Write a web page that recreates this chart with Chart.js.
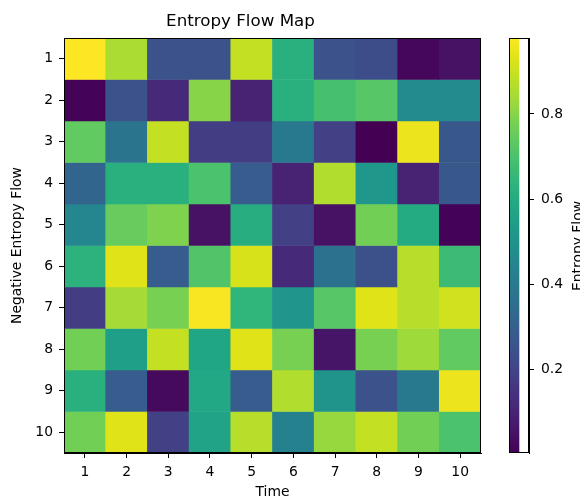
<!DOCTYPE html>
<html>
<head>
<meta charset="utf-8">
<script src="https://cdn.jsdelivr.net/npm/chart.js@4"></script>
<style>
html, body { margin:0; padding:0; width:580px; height:502px; overflow:hidden; background:#fff; }
#wrap { position:relative; width:580px; height:502px; overflow:hidden; }
#main { position:absolute; left:0; top:0; }
#cbar { position:absolute; left:480px; top:0; }
#cbtitle { position:absolute; left:516.8px; top:235.5px; width:120px; height:20px; line-height:20px;
  text-align:center; font-family:'DejaVu Sans', sans-serif; font-size:13.9px; color:#000;
  transform:rotate(-90deg); transform-origin:50% 50%; white-space:nowrap; }
</style>
</head>
<body>
<div id="wrap">
<canvas id="main" width="580" height="502"></canvas>
<canvas id="cbar" width="100" height="502"></canvas>
<div id="cbtitle">Entropy Flow</div>
</div>
<script>
// ---- data ----
const chartTitle = 'Entropy Flow Map';
const xLabel = 'Time';
const yLabel = 'Negative Entropy Flow';
const colorbarLabel = 'Entropy Flow';
const timeLabels = [1,2,3,4,5,6,7,8,9,10];
const rowLabels = [1,2,3,4,5,6,7,8,9,10];
const colorbarTicks = [0.2, 0.4, 0.6, 0.8];

const row1  = [0.978, 0.85, 0.25, 0.25, 0.89, 0.62, 0.25, 0.23, 0.02, 0.05];
const row2  = [0.01, 0.25, 0.12, 0.80, 0.10, 0.62, 0.69, 0.72, 0.47, 0.47];
const row3  = [0.74, 0.38, 0.89, 0.18, 0.18, 0.40, 0.19, 0.005, 0.95, 0.27];
const row4  = [0.32, 0.62, 0.62, 0.70, 0.29, 0.10, 0.86, 0.52, 0.10, 0.27];
const row5  = [0.45, 0.75, 0.79, 0.05, 0.61, 0.19, 0.05, 0.77, 0.60, 0.01];
const row6  = [0.63, 0.93, 0.29, 0.71, 0.92, 0.12, 0.37, 0.24, 0.87, 0.67];
const row7  = [0.18, 0.84, 0.78, 0.97, 0.64, 0.51, 0.72, 0.93, 0.87, 0.91];
const row8  = [0.77, 0.55, 0.89, 0.58, 0.93, 0.78, 0.06, 0.78, 0.83, 0.74];
const row9  = [0.62, 0.29, 0.03, 0.59, 0.29, 0.86, 0.50, 0.25, 0.40, 0.95];
const row10 = [0.77, 0.93, 0.19, 0.57, 0.87, 0.43, 0.82, 0.89, 0.77, 0.70];
const rows = [row1,row2,row3,row4,row5,row6,row7,row8,row9,row10];

// ---- viridis ----
const viridisStops = [
  '#440154','#471365','#482475','#46337f','#414487','#3b528b','#355f8d','#2f6c8e','#2a788e','#25848e',
  '#21918c','#1e9c89','#22a884','#2fb47c','#44bf70','#5ec962','#7ad151','#a0da39','#bddf26','#dfe318','#fde725'
];
function hexToRgb(h){ return [parseInt(h.slice(1,3),16),parseInt(h.slice(3,5),16),parseInt(h.slice(5,7),16)]; }
const viridisRgb = viridisStops.map(hexToRgb);
function viridis(t){
  t = Math.max(0, Math.min(1, t));
  const n = viridisRgb.length - 1;
  const p = t * n, i = Math.min(Math.floor(p), n - 1), f = p - i;
  const a = viridisRgb[i], b = viridisRgb[i+1];
  return 'rgb(' + [0,1,2].map(k => Math.round(a[k] + (b[k]-a[k])*f)).join(',') + ')';
}
const allVals = rows.flat();
const vmin = Math.min(...allVals), vmax = Math.max(...allVals);
const norm = v => (v - vmin) / (vmax - vmin);

const FONT = "'DejaVu Sans', sans-serif";
Chart.defaults.font.family = FONT;
Chart.defaults.color = '#000';
Chart.defaults.animation = false;

const framePlugin = {
  id: 'frame',
  afterDatasetsDraw(chart) {
    const a = chart.chartArea, ctx = chart.ctx;
    ctx.save();
    ctx.strokeStyle = '#000';
    ctx.lineWidth = 1;
    ctx.strokeRect(Math.round(a.left)+0.5, Math.round(a.top)+0.5, Math.round(a.right-a.left)-1, Math.round(a.bottom-a.top)-1);
    ctx.restore();
  }
};

const datasets = rows.map((r, ri) => ({
  label: 'Row ' + rowLabels[ri],
  data: timeLabels.map(() => [rowLabels[ri] - 0.5, rowLabels[ri] + 0.5]),
  backgroundColor: r.map(v => viridis(norm(v))),
  borderWidth: 0,
  grouped: false,
  barPercentage: 1,
  categoryPercentage: 1
}));

new Chart(document.getElementById('main'), {
  type: 'bar',
  data: { labels: timeLabels.map(String), datasets },
  options: {
    responsive: false,
    layout: { padding: { left: 0, right: 99, top: 0, bottom: 0 } },
    plugins: {
      legend: { display: false },
      tooltip: { enabled: false },
      title: { display: true, text: chartTitle, font: { size: 16.7, weight: 'normal', family: FONT }, color: '#000',
        padding: { top: 12, bottom: 6 } }
    },
    scales: {
      x: {
        type: 'category',
        offset: true,
        grid: { display: true, drawOnChartArea: false, drawTicks: true, tickLength: 5, color: '#000', offset: false },
        border: { display: true, color: '#000' },
        ticks: { font: { size: 13.9 }, color: '#000', padding: 6, maxRotation: 0 },
        title: { display: true, text: xLabel, font: { size: 13.9 }, color: '#000', padding: { top: 0, bottom: 1.2 } },
        afterFit(s) { s.height = 49; }
      },
      y: {
        type: 'linear',
        min: 0.5, max: 10.5,
        reverse: true,
        grid: { display: true, drawOnChartArea: false, drawTicks: true, tickLength: 5, color: '#000' },
        border: { display: true, color: '#000' },
        ticks: { font: { size: 13.9 }, color: '#000', padding: 6 },
        afterBuildTicks(s) { s.ticks = rowLabels.map(v => ({ value: v })); },
        title: { display: true, text: yLabel, font: { size: 13.9 }, color: '#000', padding: { top: 8.7, bottom: 0 } },
        afterFit(s) { s.width = 64; }
      }
    }
  },
  plugins: [framePlugin]
});

// ---- colorbar ----
new Chart(document.getElementById('cbar'), {
  type: 'bar',
  data: {
    labels: [''],
    datasets: [{
      data: [[vmin, vmax]],
      borderWidth: 0,
      barPercentage: 1,
      categoryPercentage: 1,
      backgroundColor(ctx) {
        const a = ctx.chart.chartArea;
        if (!a) return viridis(0.5);
        const g = ctx.chart.ctx.createLinearGradient(0, a.bottom, 0, a.top);
        viridisStops.forEach((c, i) => g.addColorStop(i / (viridisStops.length - 1), c));
        return g;
      }
    }]
  },
  options: {
    responsive: false,
    layout: { padding: { left: 29, right: 0, top: 38, bottom: 49 } },
    plugins: { legend: { display: false }, tooltip: { enabled: false }, title: { display: false } },
    scales: {
      x: { display: false, offset: false },
      y: {
        type: 'linear', position: 'right',
        min: vmin, max: vmax,
        grid: { display: true, drawOnChartArea: false, drawTicks: true, tickLength: 5, color: '#000' },
        border: { display: true, color: '#000' },
        ticks: { font: { size: 13.9 }, color: '#000', padding: 7, callback: v => v.toFixed(1) },
        afterBuildTicks(s) { s.ticks = colorbarTicks.map(v => ({ value: v })); },
        afterFit(s) { s.width = 51; }
      }
    }
  },
  plugins: [framePlugin]
});
</script>
</body>
</html>
